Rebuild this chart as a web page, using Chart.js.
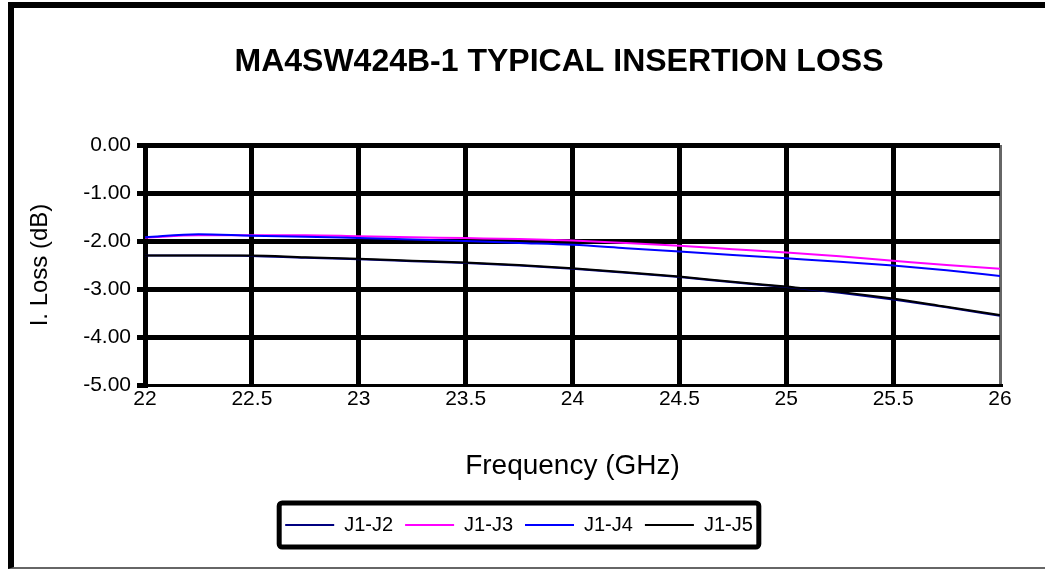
<!DOCTYPE html>
<html>
<head>
<meta charset="utf-8">
<script src="https://cdn.jsdelivr.net/npm/chart.js@4.4.1/dist/chart.umd.min.js"></script>
<style>
  body { margin: 0; background: #fff; overflow: hidden; }
  #frame { position: absolute; left: 8px; top: 2px; width: 1100px; height: 559px;
           border-top: 6px solid #000; border-left: 6px solid #000; border-bottom: 2px solid #666; }
  #grafico { position: absolute; left: 0; top: 0; }
</style>
</head>
<body>
<div id="frame"></div>
<canvas id="grafico" width="1045" height="569"></canvas>
<script>
//-> DADOS DO GRAFICO...
const tituloGrafico = 'MA4SW424B-1 TYPICAL INSERTION LOSS';
const frequencias = [22, 22.25, 22.5, 22.75, 23, 23.25, 23.5, 23.75, 24, 24.25, 24.5, 24.75, 25, 25.25, 25.5, 25.75, 26];
const series = ['J1-J2', 'J1-J3', 'J1-J4', 'J1-J5'];
const perdaJ1J2 = [-2.30, -2.30, -2.31, -2.35, -2.38, -2.42, -2.46, -2.51, -2.58, -2.66, -2.75, -2.86, -2.96, -3.08, -3.22, -3.38, -3.56];
const perdaJ1J3 = [-1.93, -1.88, -1.88, -1.88, -1.90, -1.92, -1.94, -1.96, -1.99, -2.04, -2.10, -2.17, -2.24, -2.32, -2.41, -2.50, -2.58];
const perdaJ1J4 = [-1.92, -1.86, -1.89, -1.91, -1.94, -1.97, -2.00, -2.04, -2.08, -2.15, -2.22, -2.29, -2.36, -2.43, -2.51, -2.61, -2.73];
const perdaJ1J5 = [-2.30, -2.30, -2.30, -2.34, -2.37, -2.41, -2.45, -2.50, -2.57, -2.65, -2.74, -2.85, -2.95, -3.06, -3.20, -3.37, -3.54];
const cores = ['#000080', '#ff00ff', '#0000ff', '#000000'];
const ticksY = [0, -1, -2, -3, -4, -5];

const valores = [perdaJ1J2, perdaJ1J3, perdaJ1J4, perdaJ1J5];
const fonte = '"Liberation Sans", Arial, sans-serif';

//-> titulo desenhado a mao (centro deslocado como no original)
const pluginTitulo = {
   id: 'tituloFixo',
   afterDraw(chart) {
      const ctx = chart.ctx;
      ctx.save();
      ctx.font = 'bold 32px ' + fonte;
      ctx.fillStyle = '#000';
      ctx.textAlign = 'center';
      ctx.textBaseline = 'middle';
      ctx.fillText(tituloGrafico, 559, 62);
      ctx.restore();
   }
};

//-> moldura da legenda
const pluginMolduraLegenda = {
   id: 'molduraLegenda',
   afterDraw(chart) {
      const caixas = chart.legend.legendHitBoxes;
      if (!caixas || !caixas.length) return;
      let esq = Infinity, dir = -Infinity, topo = Infinity, base = -Infinity;
      caixas.forEach(c => {
         esq = Math.min(esq, c.left);
         dir = Math.max(dir, c.left + c.width);
         topo = Math.min(topo, c.top);
         base = Math.max(base, c.top + c.height);
      });
      const ctx = chart.ctx;
      ctx.save();
      ctx.strokeStyle = '#000';
      ctx.lineWidth = 5;
      ctx.beginPath();
      ctx.roundRect(esq - 6, topo - 12, (dir - esq) + 12, (base - topo) + 24, 3);
      ctx.stroke();
      ctx.restore();
   }
};

const datasets = series.map((nome, i) => ({
   label: nome,
   data: frequencias.map((f, k) => ({ x: f, y: valores[i][k] })),
   borderColor: cores[i],
   backgroundColor: cores[i],
   borderWidth: 2,
   pointRadius: 0,
   cubicInterpolationMode: 'monotone',
   order: series.length - i
}));

const grafDash = document.getElementById('grafico').getContext('2d');
const chartjs = new Chart(grafDash, {
   type: 'line',
   data: { datasets: datasets },
   options: {
      responsive: false,
      animation: false,
      devicePixelRatio: 1,
      layout: { padding: { top: 145, right: 7, left: 0, bottom: 24 } },
      plugins: {
         title: { display: false },
         tooltip: { enabled: false },
         legend: {
            position: 'bottom',
            labels: {
               usePointStyle: true,
               pointStyle: 'line',
               pointStyleWidth: 49,
               color: '#000',
               padding: 12,
               font: { family: fonte, size: 20 },
               sort: (a, b) => a.datasetIndex - b.datasetIndex
            }
         }
      },
      scales: {
         x: {
            type: 'linear',
            min: 22,
            max: 26,
            ticks: { stepSize: 0.5, color: '#000', padding: 2, font: { family: fonte, size: 21 },
                     callback: v => String(v) },
            grid: {
               drawTicks: false,
               color: c => c.tick && c.tick.value === 26 ? '#666' : '#000',
               lineWidth: c => c.tick && c.tick.value === 26 ? 3 : 5
            },
            border: { display: true, color: '#000', width: 3 },
            title: { display: true, text: 'Frequency (GHz)', color: '#000',
                     font: { family: fonte, size: 28 }, padding: { top: 20, bottom: 20 } },
            afterFit: escala => { escala.height = 118; }
         },
         y: {
            min: -5,
            max: 0,
            afterBuildTicks: escala => { escala.ticks = ticksY.map(v => ({ value: v })); },
            ticks: { color: '#000', padding: 6, font: { family: fonte, size: 21 },
                     callback: v => v.toFixed(2) },
            grid: {
               color: '#000',
               lineWidth: c => c.tick && c.tick.value === -5 ? 3 : 5,
               tickLength: 8,
               tickColor: '#000',
               tickWidth: 5
            },
            border: { display: true, color: '#000', width: 5 },
            title: { display: true, text: 'I. Loss (dB)', color: '#000',
                     font: { family: fonte, size: 24 }, padding: { top: 26, bottom: 0 } },
            afterFit: escala => { escala.width = 145; }
         },
         // eixo vazio so para reservar o espaco da direita
         yDir: {
            position: 'right',
            display: true,
            min: -5,
            max: 0,
            ticks: { display: false },
            grid: { display: false },
            border: { display: false },
            afterFit: escala => { escala.width = 38; }
         }
      }
   },
   plugins: [pluginTitulo, pluginMolduraLegenda]
});
</script>
</body>
</html>
